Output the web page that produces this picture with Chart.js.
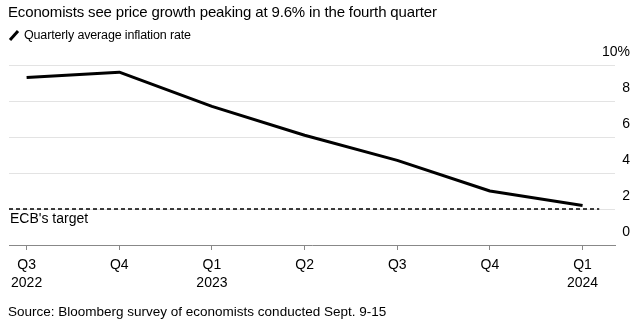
<!DOCTYPE html>
<html>
<head>
<meta charset="utf-8">
<script src="https://cdn.jsdelivr.net/npm/chart.js@4/dist/chart.umd.min.js"></script>
<style>
  html, body { margin: 0; padding: 0; background: #fff; }
  #wrap { position: relative; width: 637px; height: 326px; font-family: "Liberation Sans", Arial, sans-serif; color: #000; }
  #chart { position: absolute; left: 0; top: 0; }
  .txt { position: absolute; white-space: nowrap; }
  #title { left: 8px; top: 3px; font-size: 15px; letter-spacing: -0.15px; }
  #legend { left: 8px; top: 28px; font-size: 12.5px; letter-spacing: -0.15px; display: flex; align-items: center; }
  #legend .icon { display: inline-block; width: 12px; height: 3px; background: #000; transform: rotate(-48deg); margin: 0 4px 0 0; }
  #source { left: 8px; top: 304px; font-size: 13.5px; }
</style>
</head>
<body>
<div id="wrap">
  <canvas id="chart" width="637" height="326"></canvas>
  <div id="title" class="txt">Economists see price growth peaking at 9.6% in the fourth quarter</div>
  <div id="legend" class="txt"><span class="icon"></span>Quarterly average inflation rate</div>
  <div id="source" class="txt">Source: Bloomberg survey of economists conducted Sept. 9-15</div>
</div>
<script>
// Quarter labels (two lines: quarter, year)
const quarters = ['Q3', 'Q4', 'Q1', 'Q2', 'Q3', 'Q4', 'Q1'];
const years = ['2022', '', '2023', '', '', '', '2024'];
// Quarterly average inflation rate, %
const inflation = [9.3, 9.6, 7.7, 6.1, 4.7, 3.0, 2.2];
// ECB inflation target, %
const ecbTarget = 2;
// Y axis ticks
const yTicks = [0, 2, 4, 6, 8, 10];

const targetLabel = {
  id: 'targetLabel',
  afterDatasetsDraw(chart) {
    const { ctx, chartArea, scales } = chart;
    const y = scales.y.getPixelForValue(ecbTarget);
    ctx.save();
    ctx.font = '14px "Liberation Sans", Arial, sans-serif';
    ctx.fillStyle = '#000';
    ctx.textBaseline = 'middle';
    ctx.textAlign = 'left';
    ctx.fillText("ECB's target", chartArea.left + 1, y + 10);
    ctx.restore();
  }
};

new Chart(document.getElementById('chart'), {
  type: 'line',
  data: {
    datasets: [
      {
        label: 'Quarterly average inflation rate',
        data: inflation.map((v, i) => ({ x: i, y: v })),
        borderColor: '#000',
        borderWidth: 3,
        pointRadius: 0,
        tension: 0,
        borderJoinStyle: 'round',
        borderCapStyle: 'butt'
      },
      {
        label: "ECB's target",
        data: [{ x: -0.19, y: ecbTarget }, { x: 6.18, y: ecbTarget }],
        borderColor: '#000',
        borderWidth: 1.4,
        borderDash: [4, 3],
        pointRadius: 0
      }
    ]
  },
  options: {
    responsive: false,
    animation: false,
    layout: { padding: { left: 9, right: 0, top: 65, bottom: 0 } },
    plugins: { legend: { display: false }, tooltip: { enabled: false } },
    scales: {
      x: {
        type: 'linear',
        min: -0.19,
        max: 6.35,
        afterBuildTicks: (scale) => { scale.ticks = quarters.map((_, i) => ({ value: i })); },
        afterFit: (scale) => { scale.height = 81; },
        grid: { drawOnChartArea: false, drawTicks: true, tickLength: 5, color: '#888' },
        border: { display: true, color: '#888', width: 1 },
        ticks: {
          autoSkip: false,
          maxRotation: 0,
          padding: 6,
          color: '#000',
          font: { family: '"Liberation Sans", Arial, sans-serif', size: 14, lineHeight: 1.3 },
          callback: (v) => years[v] ? [quarters[v], years[v]] : quarters[v]
        }
      },
      y: {
        position: 'right',
        min: 0,
        max: 10,
        afterBuildTicks: (scale) => { scale.ticks = yTicks.map(v => ({ value: v })); },
        afterFit: (scale) => { scale.width = 22; },
        grid: { color: '#e3e3e3', lineWidth: 1, drawTicks: false },
        border: { display: false },
        ticks: {
          mirror: true,
          crossAlign: 'near',
          padding: 15,
          labelOffset: -13,
          color: '#000',
          font: { family: '"Liberation Sans", Arial, sans-serif', size: 14 },
          callback: (v) => v === 10 ? v + '%' : String(v)
        }
      }
    }
  },
  plugins: [targetLabel]
});
</script>
</body>
</html>
